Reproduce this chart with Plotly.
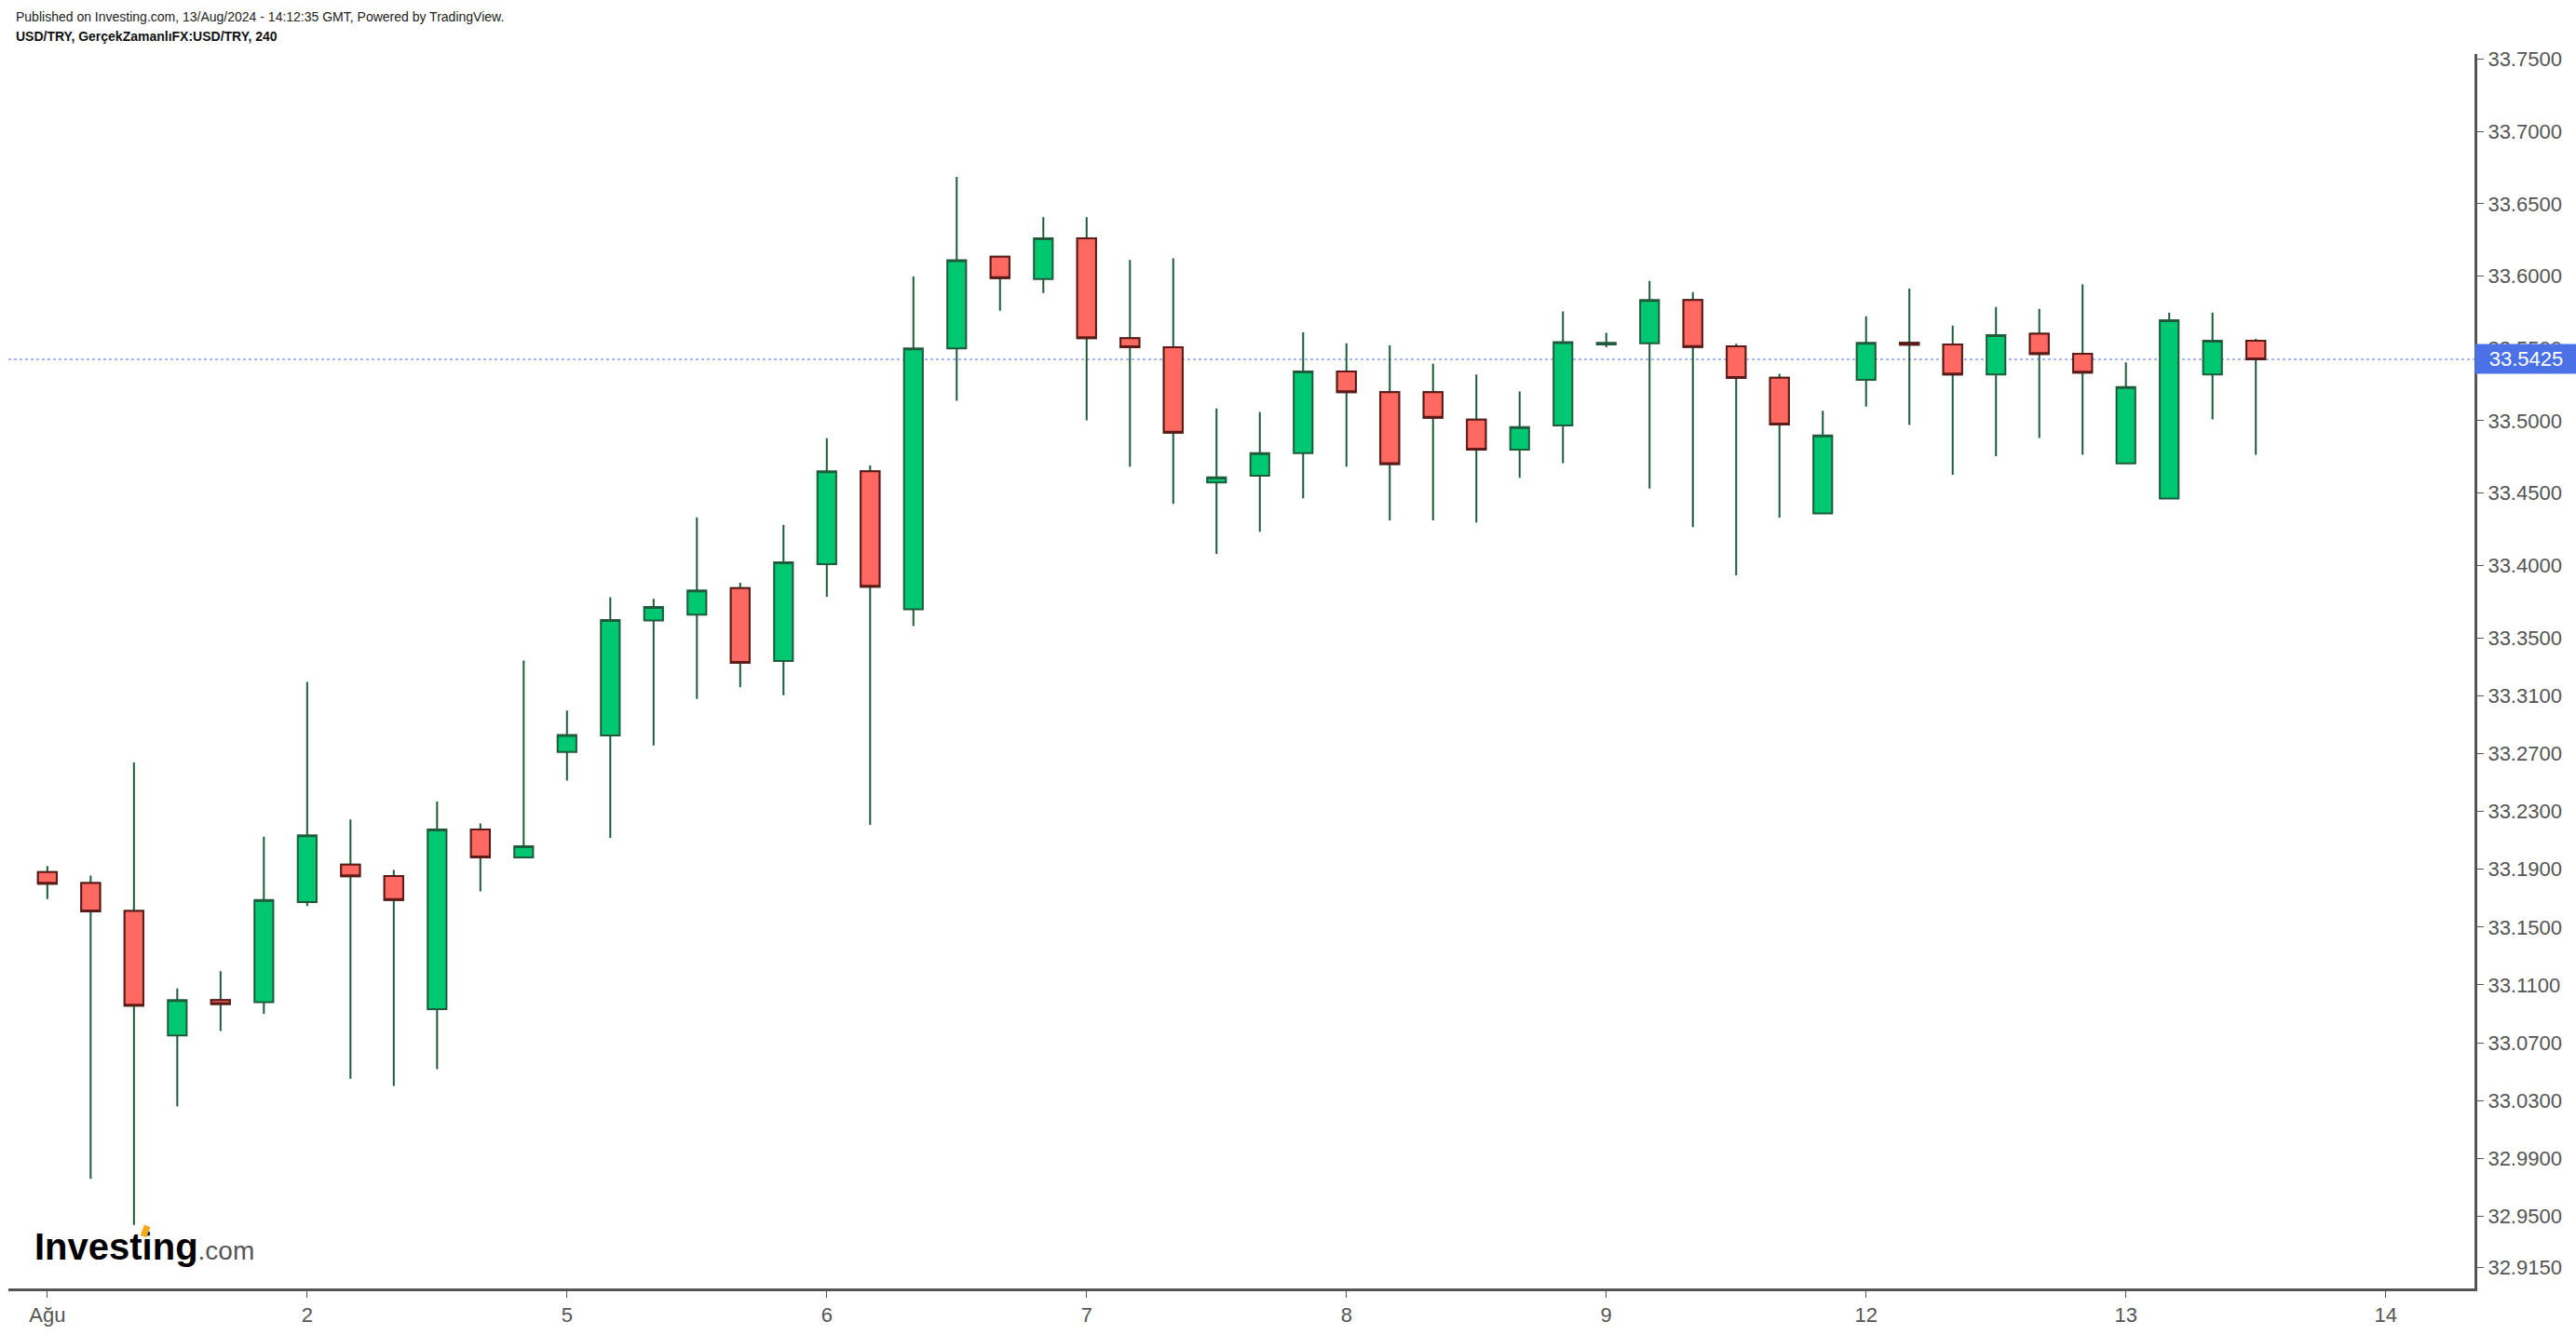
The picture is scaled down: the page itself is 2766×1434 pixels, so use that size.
import plotly.graph_objects as go

# ---- data (USD/TRY, 4h candles) ----
days = ["2024-08-01", "2024-08-02", "2024-08-05", "2024-08-06", "2024-08-07",
        "2024-08-08", "2024-08-09", "2024-08-12", "2024-08-13"]
hours = ["00:00", "04:00", "08:00", "12:00", "16:00", "20:00"]
candle_times = [f"{d} {h}" for d in days for h in hours][:52]

opens = [33.1880, 33.1804, 33.1611, 33.0750, 33.0995, 33.0981,
         33.1672, 33.1932, 33.1853, 33.0932, 33.2175, 33.1981,
         33.2711, 33.2825, 33.3620, 33.3660, 33.3843, 33.3340,
         33.4009, 33.4650, 33.3697, 33.5500, 33.6133, 33.5979,
         33.6261, 33.5570, 33.5508, 33.4573, 33.4620, 33.4776,
         33.5341, 33.5197, 33.5197, 33.5008, 33.4800, 33.4967,
         33.5528, 33.5536, 33.5835, 33.5515, 33.5297, 33.4359,
         33.5282, 33.5538, 33.5527, 33.5320, 33.5602, 33.5463,
         33.4705, 33.4462, 33.5320, 33.5553]
highs = [33.1922, 33.1856, 33.2638, 33.1076, 33.1194, 33.2125,
         33.3195, 33.2243, 33.1895, 33.2368, 33.2216, 33.3342,
         33.2997, 33.3780, 33.3769, 33.4332, 33.3880, 33.4281,
         33.4879, 33.4690, 33.5997, 33.6686, 33.6140, 33.6408,
         33.6408, 33.6111, 33.6123, 33.5085, 33.5061, 33.5611,
         33.5535, 33.5520, 33.5394, 33.5320, 33.5203, 33.5756,
         33.5607, 33.5967, 33.5890, 33.5532, 33.5325, 33.5068,
         33.5722, 33.5914, 33.5658, 33.5786, 33.5773, 33.5942,
         33.5404, 33.5747, 33.5747, 33.5566]
lows = [33.1694, 32.9760, 32.9441, 33.0260, 33.0782, 33.0900,
        33.1645, 33.0451, 33.0402, 33.0517, 33.1746, 33.1975,
        33.2513, 33.2116, 33.2756, 33.3077, 33.3157, 33.3103,
        33.3783, 33.2207, 33.3580, 33.5138, 33.5760, 33.5882,
        33.5003, 33.4682, 33.4426, 33.4079, 33.4232, 33.4464,
        33.4682, 33.4311, 33.4311, 33.4297, 33.4606, 33.4706,
        33.5508, 33.4532, 33.4265, 33.3932, 33.4330, 33.4355,
        33.5098, 33.4970, 33.4626, 33.4755, 33.4880, 33.4765,
        33.4700, 33.4458, 33.5009, 33.4765]
closes = [33.1799, 33.1608, 33.0956, 33.0995, 33.0968, 33.1687,
          33.2135, 33.1851, 33.1687, 33.2175, 33.1981, 33.2059,
          33.2828, 33.3623, 33.3712, 33.3826, 33.3326, 33.4021,
          33.4650, 33.3852, 33.5500, 33.6110, 33.5986, 33.6261,
          33.5570, 33.5508, 33.4917, 33.4608, 33.4776, 33.5341,
          33.5197, 33.4700, 33.5020, 33.4800, 33.4956, 33.5544,
          33.5538, 33.5835, 33.5510, 33.5295, 33.4974, 33.4898,
          33.5538, 33.5525, 33.5320, 33.5592, 33.5461, 33.5333,
          33.5233, 33.5694, 33.5553, 33.5425]

last_price = 33.5425

x_tick_pos = [0, 6, 12, 18, 24, 30, 36, 42, 48, 54]
x_tick_labels = ["Ağu", "2", "5", "6", "7", "8", "9", "12", "13", "14"]

y_tick_vals = [33.75, 33.70, 33.65, 33.60, 33.55, 33.50, 33.45, 33.40, 33.35,
               33.31, 33.27, 33.23, 33.19, 33.15, 33.11, 33.07, 33.03, 32.99,
               32.95, 32.915]
y_tick_text = ["33.7500", "33.7000", "33.6500", "33.6000", "33.5500", "33.5000",
               "33.4500", "33.4000", "33.3500", "33.3100", "33.2700", "33.2300",
               "33.1900", "33.1500", "33.1100", "33.0700", "33.0300", "32.9900",
               "32.9500", "32.9150"]

# ---- styling ----
GREEN_FILL = "#00C872"
RED_FILL = "#FF6961"
WICK = "#1E5B3B"
RED_EDGE = "#5E1A17"
AXIS = "#555555"
FONT = "Liberation Sans, Arial, sans-serif"
NARROW = "Liberation Sans Narrow, Arial Narrow, Liberation Sans, sans-serif"

xs = list(range(len(opens)))

fig = go.Figure()
# all candles (wicks and bodies), wick colour shared
fig.add_trace(go.Candlestick(
    x=xs, open=opens, high=highs, low=lows, close=closes,
    increasing=dict(fillcolor=GREEN_FILL, line=dict(color=WICK, width=2)),
    decreasing=dict(fillcolor=RED_FILL, line=dict(color=WICK, width=2)),
    whiskerwidth=0, showlegend=False, hoverinfo="skip", text=candle_times,
))
# red bodies re-drawn with dark red outline
dec = [i for i in xs if closes[i] < opens[i]]
fig.add_trace(go.Candlestick(
    x=dec,
    open=[opens[i] for i in dec], high=[opens[i] for i in dec],
    low=[closes[i] for i in dec], close=[closes[i] for i in dec],
    increasing=dict(fillcolor=RED_FILL, line=dict(color=RED_EDGE, width=2)),
    decreasing=dict(fillcolor=RED_FILL, line=dict(color=RED_EDGE, width=2)),
    whiskerwidth=0, showlegend=False, hoverinfo="skip",
))

fig.add_shape(type="line", xref="paper", x0=0, x1=1, yref="y",
              y0=last_price, y1=last_price,
              line=dict(color="rgba(90,125,235,0.55)", width=2, dash="dot"),
              layer="below")

fig.update_layout(
    width=2766, height=1434, autosize=False,
    margin=dict(l=9, r=109, t=58, b=44, pad=0),
    paper_bgcolor="white", plot_bgcolor="white",
    boxgap=0.38, boxmode="overlay",
    showlegend=False,
    font=dict(family=FONT, color=AXIS),
)
fig.update_xaxes(
    range=[-0.9, 56.05], rangeslider_visible=False,
    tickmode="array", tickvals=x_tick_pos, ticktext=x_tick_labels,
    showgrid=False, zeroline=False,
    showline=True, linecolor=AXIS, linewidth=3,
    ticks="outside", ticklen=7, tickwidth=1, tickcolor=AXIS,
    tickfont=dict(family=NARROW, size=22, color=AXIS),
)
fig.update_yaxes(
    side="right", range=[32.9002, 33.7535],
    tickmode="array", tickvals=y_tick_vals, ticktext=y_tick_text,
    showgrid=False, zeroline=False,
    showline=True, linecolor=AXIS, linewidth=3,
    ticks="outside", ticklen=7, tickwidth=1, tickcolor=AXIS,
    tickfont=dict(family=FONT, size=22, color=AXIS),
)

annotations = [
    dict(text="Published on Investing.com, 13/Aug/2024 - 14:12:35 GMT, Powered by TradingView.",
         xref="paper", yref="paper", x=0.00227, y=1.0303, xanchor="left", yanchor="middle",
         showarrow=False, font=dict(family=NARROW, size=14, color="#222222")),
    dict(text="<b>USD/TRY, GerçekZamanlıFX:USD/TRY, 240</b>",
         xref="paper", yref="paper", x=0.00227, y=1.0144, xanchor="left", yanchor="middle",
         showarrow=False, font=dict(family=NARROW, size=14, color="#111111")),
    dict(text="<b>Investing</b><span style='font-size:28px;color:#555555'>.com</span>",
         xref="paper", yref="paper", x=0.0098, y=0.034, xanchor="left", yanchor="middle",
         showarrow=False, font=dict(family=FONT, size=40, color="#000000")),
    # orange accent of the logo
    dict(text=" ", xref="paper", yref="paper", x=0.0556, y=0.0462,
         xanchor="center", yanchor="middle", showarrow=False,
         width=6, height=11, borderpad=0, bgcolor="#F6A81C", textangle=20,
         font=dict(size=2)),
    dict(text="33.5425", xref="paper", yref="y", x=1, y=last_price,
         xanchor="left", yanchor="middle", showarrow=False,
         width=109, height=31, align="center", borderpad=0,
         bgcolor="#4A72E6", font=dict(family=FONT, size=22, color="white")),
]
fig.update_layout(annotations=annotations)

fig.write_html("out.html", config={"displayModeBar": False})
